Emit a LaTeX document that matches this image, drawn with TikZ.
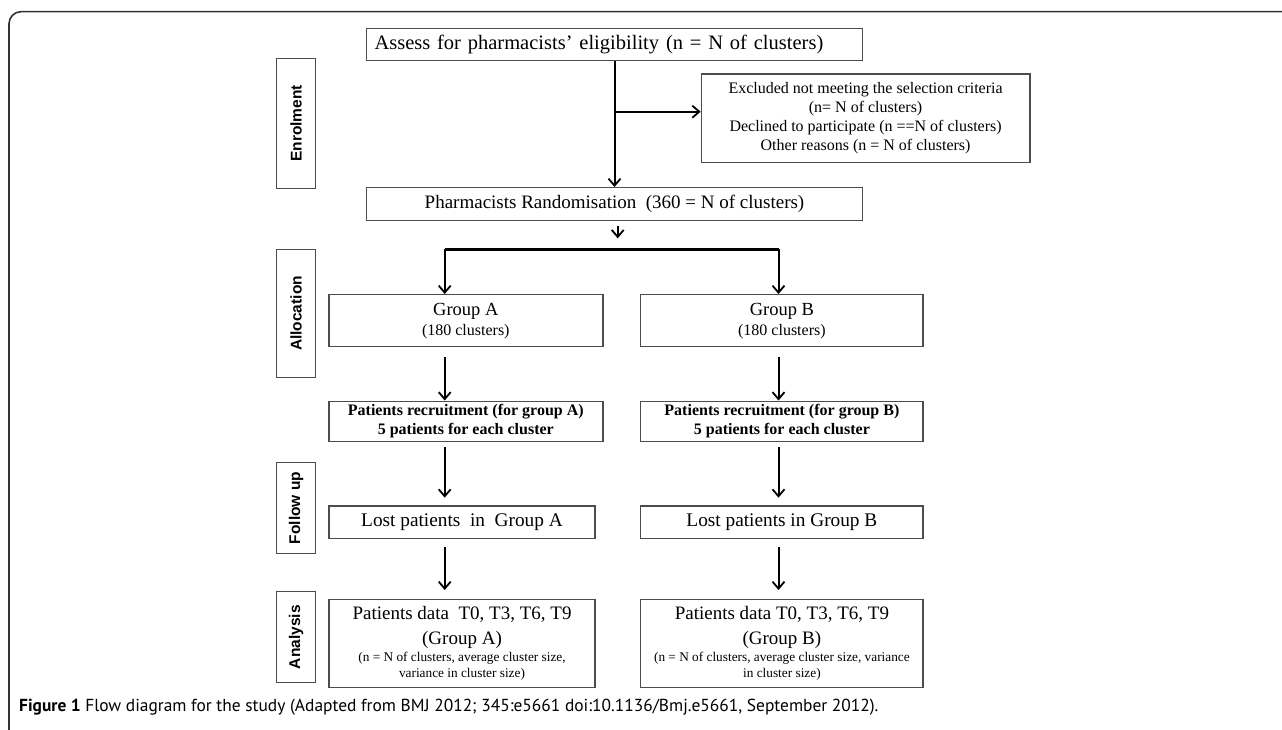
\documentclass[tikz,border=0pt]{standalone}
\usepackage{fontspec}
\setmainfont{Liberation Serif}
\newfontfamily\sidefont{Liberation Sans}
\newfontfamily\capfont{PT Sans}
\usetikzlibrary{arrows.meta,calc}
\begin{document}
\begin{tikzpicture}[x=1pt,y=-1pt,
  box/.style={draw=black!70, line width=1.4pt, inner sep=0pt, align=center},
  side/.style={draw=black!70, line width=1.4pt, inner sep=0pt, minimum width=39pt, font=\sidefont\bfseries\fontsize{15.5}{18}\selectfont},
  arr/.style={line width=2pt, -{Straight Barb[length=7pt,width=12pt,line width=1.8pt]}},
]
\useasboundingbox (0,0) rectangle (1282,730);
% frame
\draw[line width=1.6pt, black!80, rounded corners=12pt] (9,730) -- (9,11.7) -- (1282,11.7);

% side labels
\node[side, minimum height=130pt] (enrol) at (296,123.3) {\rotatebox{90}{Enrolment}};
\node[side, minimum height=128.4pt] (alloc) at (296,313.5) {\rotatebox{90}{Allocation}};
\node[side, minimum height=90.6pt] (follow) at (296,508) {\rotatebox{90}{Follow up}};
\node[side, minimum height=91pt] (anal) at (296,637.2) {\rotatebox{90}{Analysis}};

% main boxes
\node[box, align=left, text width=480pt, inner xsep=8pt, minimum height=32.4pt, font=\fontsize{20.5}{24}\selectfont] (assess) at (614.5,44.5)
  {Assess for pharmacists' eligibility (n = N of clusters)};
\node[box, minimum width=328.4pt, minimum height=88.3pt, font=\fontsize{16}{19.2}\selectfont] (excl) at (865.6,118.2)
  {Excluded not meeting the selection criteria\\(n= N of clusters)\\Declined to participate (n ==N of clusters)\\Other reasons (n = N of clusters)};
\node[box, font=\fontsize{19}{23}\selectfont, minimum width=496pt, minimum height=33pt] (rand) at (614.5,204.2)
  {Pharmacists Randomisation\ \ (360 = N of clusters)};

\node[box, minimum width=274pt, minimum height=52pt, font=\fontsize{18.5}{20}\selectfont] (groupA) at (465.8,320.7)
  {Group A\\{\fontsize{16}{20}\selectfont (180 clusters)}};
\node[box, minimum width=282.3pt, minimum height=52pt, font=\fontsize{18.5}{20}\selectfont] (groupB) at (781.9,320.7)
  {Group B\\{\fontsize{16}{20}\selectfont (180 clusters)}};

\node[box, minimum width=274pt, minimum height=40pt, font=\bfseries\fontsize{16}{19}\selectfont] (recA) at (465.8,421.2)
  {Patients recruitment (for group A)\\5 patients for each cluster};
\node[box, minimum width=282.3pt, minimum height=40pt, font=\bfseries\fontsize{16}{19}\selectfont] (recB) at (781.9,421.2)
  {Patients recruitment (for group B)\\5 patients for each cluster};

\node[box, minimum width=266.3pt, minimum height=32.3pt, font=\fontsize{19.3}{22}\selectfont] (lostA) at (462,522.2)
  {Lost patients\ \ in\ \ Group A};
\node[box, minimum width=282.3pt, minimum height=32.3pt, font=\fontsize{19.3}{22}\selectfont] (lostB) at (781.9,522.2)
  {Lost patients in Group B};

\node[box, minimum width=266.3pt, minimum height=88pt, font=\fontsize{19}{25}\selectfont] (dataA) at (462,643.3)
  {Patients data\ \ T0, T3, T6, T9\\(Group A)\\[-8pt]{\fontsize{13.3}{15.7}\selectfont (n = N of clusters, average cluster size,}\\[-9pt]{\fontsize{13.3}{15.7}\selectfont variance in cluster size)}};
\node[box, minimum width=282.3pt, minimum height=88pt, font=\fontsize{19}{25}\selectfont] (dataB) at (781.9,643.3)
  {Patients data T0, T3, T6, T9\\(Group B)\\[-8pt]{\fontsize{13.3}{15.7}\selectfont (n = N of clusters, average cluster size, variance}\\[-9pt]{\fontsize{13.3}{15.7}\selectfont in cluster size)}};

% connector helpers
\coordinate (colA) at (444.7,0);
\coordinate (colB) at (778.5,0);
\coordinate (mid) at (617.7,0);
\coordinate (splitL) at (444.7,249.3);
\coordinate (splitR) at (778.5,249.3);
\coordinate (exclFrom) at (614.5,111.7);

\draw[arr] (assess.south) -- (rand.north);
\draw[arr] (exclFrom) -- (exclFrom -| excl.west);
\draw[arr] ($(rand.south -| mid)+(0,4.3)$) -- ($(splitL -| mid)+(0,-11)$);
\draw[line width=2.8pt] (splitL) -- (splitR);
\draw[arr] (splitL) -- (groupA.north -| splitL);
\draw[arr] (splitR) -- (groupB.north -| splitR);

\draw[arr] ($(groupA.south -| colA)+(0,9.3)$) -- (recA.north -| colA);
\draw[arr] ($(groupB.south -| colB)+(0,9.3)$) -- (recB.north -| colB);
\draw[arr] ($(recA.south -| colA)+(0,5)$) -- ($(lostA.north -| colA)+(0,-7.7)$);
\draw[arr] ($(recB.south -| colB)+(0,5)$) -- ($(lostB.north -| colB)+(0,-7.7)$);
\draw[arr] ($(lostA.south -| colA)+(0,8.4)$) -- ($(dataA.north -| colA)+(0,-8.6)$);
\draw[arr] ($(lostB.south -| colB)+(0,8.4)$) -- ($(dataB.north -| colB)+(0,-8.6)$);

% caption
\node[anchor=west, inner sep=0pt, font=\capfont\fontsize{17.4}{20}\selectfont] (cap) at (19,707.3)
  {{\bfseries Figure 1} Flow diagram for the study (Adapted from BMJ 2012; 345:e5661 doi:10.1136/Bmj.e5661, September 2012).};
\end{tikzpicture}
\end{document}
